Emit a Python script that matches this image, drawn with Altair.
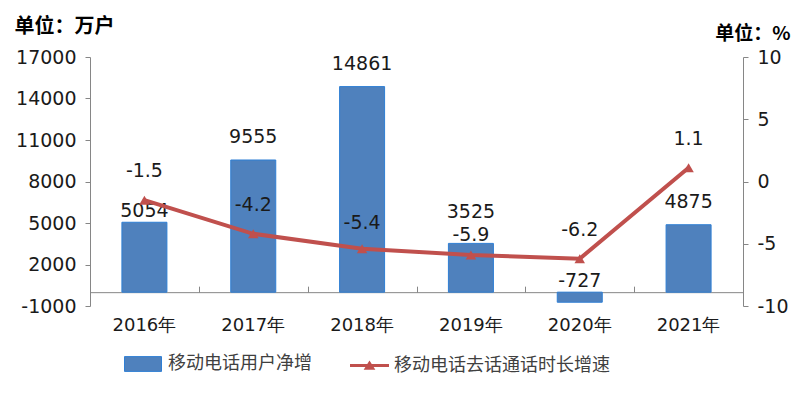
import altair as alt
import pandas as pd

years = ["2016年", "2017年", "2018年", "2019年", "2020年", "2021年"]
net_add = [5054, 9555, 14861, 3525, -727, 4875]
growth = [-1.5, -4.2, -5.4, -5.9, -6.2, 1.1]
bar_name = "移动电话用户净增"
line_name = "移动电话去话通话时长增速"
left_ticks = [-1000, 2000, 5000, 8000, 11000, 14000, 17000]
right_ticks = [-10, -5, 0, 5, 10]

df = pd.DataFrame({"year": years, "v": net_add, "g": growth,
                   "s1": bar_name, "s2": line_name})

W, H = 653, 249
NUM_FONT = "DejaVu Sans"
CJK_FONT = "Noto Sans CJK SC"
AX_GRAY = "#868686"
TXT = "#1a1a1a"
ZERO_FROM_BOTTOM = H * 1000 / 18000
ZERO_FROM_TOP = H - ZERO_FROM_BOTTOM

# bottom axis: category labels, domain line drawn at the zero level
x_axis_labels = alt.Axis(title=None, labelAngle=0, orient="bottom",
                         offset=-ZERO_FROM_BOTTOM, ticks=False,
                         domainColor=AX_GRAY, labelFont=NUM_FONT, labelFontSize=18,
                         labelColor=TXT, labelPadding=24, grid=False)
# top-oriented axis moved to zero level: ticks between categories pointing up
x_axis_ticks = alt.Axis(title=None, orient="top", offset=-ZERO_FROM_TOP,
                        labels=False, domain=False, tickBand="extent",
                        tickColor=AX_GRAY, tickSize=6, grid=False)

x_enc = alt.X("year:N", sort=years,
              scale=alt.Scale(paddingInner=0, paddingOuter=0), axis=x_axis_labels)
x_plain = alt.X("year:N", sort=years)

y_left = alt.Y(
    "v:Q",
    scale=alt.Scale(domain=[-1000, 17000], nice=False, zero=False),
    axis=alt.Axis(values=left_ticks, grid=False, labelExpr="'' + datum.value",
                  domainColor=AX_GRAY, tickColor=AX_GRAY, tickSize=5, labelPadding=9,
                  labelFont=NUM_FONT, labelFontSize=19, labelColor=TXT,
                  title="单位：万户", titleAngle=0, titleAlign="left",
                  titleBaseline="middle", titleX=-76, titleY=-31,
                  titleFont=CJK_FONT, titleFontWeight="bold", titleFontSize=20,
                  titleColor="#000000"),
)

y_right = alt.Y(
    "g:Q",
    scale=alt.Scale(domain=[-10, 10], nice=False, zero=False),
    axis=alt.Axis(orient="right", values=right_ticks, grid=False,
                  labelExpr="'' + datum.value",
                  domainColor=AX_GRAY, tickColor=AX_GRAY, tickSize=5, labelPadding=9,
                  labelFont=NUM_FONT, labelFontSize=19, labelColor=TXT,
                  title="单位：%", titleAngle=0, titleAlign="right",
                  titleBaseline="middle", titleX=47, titleY=-24,
                  titleFont=CJK_FONT, titleFontWeight="bold", titleFontSize=19,
                  titleColor="#000000"),
)

bars = alt.Chart(df).mark_bar(size=45, stroke="#2f7fd4", strokeWidth=1).encode(
    x=x_enc,
    y=y_left,
    color=alt.Color(
        "s1:N",
        scale=alt.Scale(domain=[bar_name], range=["#4F81BD"]),
        legend=alt.Legend(title=None, orient="none", legendX=34, legendY=288,
                          symbolType="M-1,-0.4H1V0.4H-1Z", symbolSize=1369,
                          symbolStrokeColor="#2f7fd4", symbolStrokeWidth=1,
                          labelFont=CJK_FONT, labelFontSize=18, labelColor="#404040",
                          labelOffset=6, labelLimit=400, padding=0),
    ),
)


def bar_label(cond, dy, ycol="v"):
    return alt.Chart(df).transform_filter(cond).transform_calculate(
        label="'' + datum.v", zero="0"
    ).mark_text(dy=dy, font=NUM_FONT, fontSize=19, color=TXT, baseline="middle").encode(
        x=x_plain, y=alt.Y(f"{ycol}:Q"), text="label:N")


# label placement follows the reference (a few labels nudged to avoid the line)
bar_text_main = bar_label("datum.v >= 0 && datum.year != '2016年' && datum.year != '2019年'", -23)
bar_text_2016 = bar_label("datum.year == '2016年'", -11)
bar_text_2019 = bar_label("datum.year == '2019年'", -31)
bar_text_neg = bar_label("datum.v < 0", -11, ycol="zero")

left = alt.layer(bars, bar_text_main, bar_text_2016, bar_text_2019, bar_text_neg)

line = alt.Chart(df).mark_line(color="#C0504D", strokeWidth=4, interpolate="linear").encode(
    x=alt.X("year:N", sort=years, axis=x_axis_ticks),
    y=y_right,
)

pts = alt.Chart(df).mark_point(shape="triangle-up", filled=True, size=110, opacity=1).encode(
    x=x_plain,
    y=alt.Y("g:Q"),
    color=alt.Color(
        "s2:N",
        scale=alt.Scale(domain=[line_name], range=["#C0504D"]),
        legend=alt.Legend(title=None, orient="none", legendX=259, legendY=288,
                          symbolType="M-1,-0.08H1V0.08H-1Z M-0.3,0.22L0,-0.26L0.3,0.22Z",
                          symbolSize=1521,
                          labelFont=CJK_FONT, labelFontSize=18, labelColor="#404040",
                          labelOffset=4, labelLimit=400, padding=0),
    ),
)


def line_label(cond, dy):
    return alt.Chart(df).transform_filter(cond).transform_calculate(
        label="'' + datum.g"
    ).mark_text(dy=dy, font=NUM_FONT, fontSize=19, color=TXT, baseline="middle").encode(
        x=x_plain, y=alt.Y("g:Q"), text="label:N")


line_text_main = line_label("datum.year != '2019年' && datum.year != '2018年'", -29)
line_text_2018 = line_label("datum.year == '2018年'", -26)
line_text_2019 = line_label("datum.year == '2019年'", -20)

right = alt.layer(line, pts, line_text_main, line_text_2018, line_text_2019)

chart = alt.layer(left, right).resolve_scale(
    y="independent", color="independent"
).resolve_axis(x="independent").properties(
    width=W, height=H,
    autosize=alt.AutoSizeParams(type="none"),
    padding={"left": 82, "top": 49, "right": 49, "bottom": 88},
).configure_view(stroke=None)

chart.save("out.html", embed_options={"renderer": "svg", "actions": False})
